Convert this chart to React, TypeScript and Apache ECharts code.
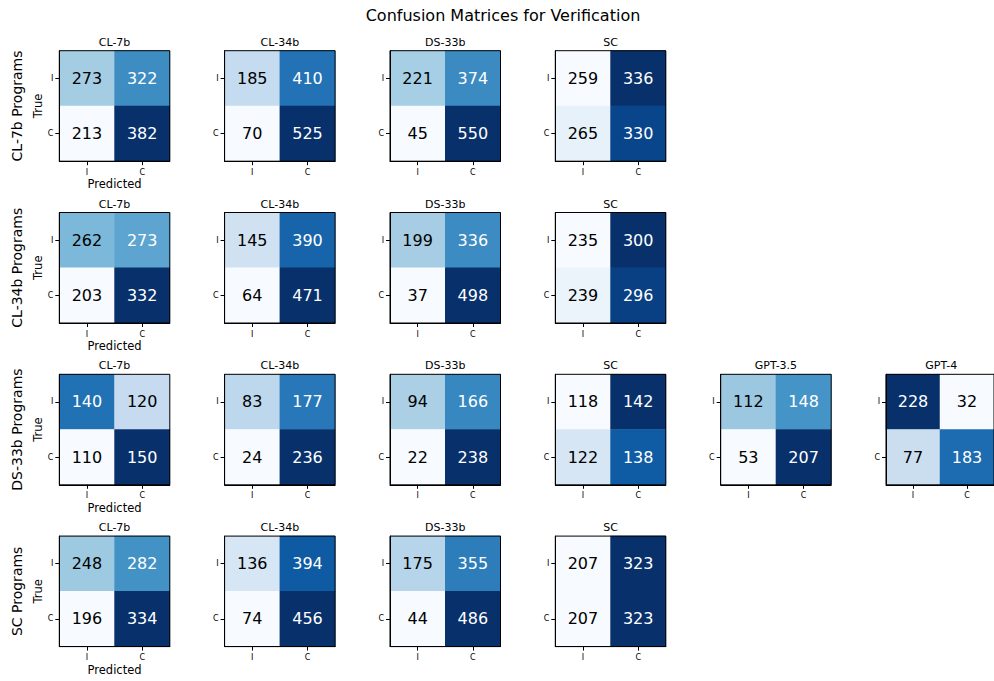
import React, { useEffect, useRef } from "react";
import * as echarts from "echarts";

const MAIN_TITLE = "Confusion Matrices for Verification";
const ROW_LABELS = ["CL-7b Programs", "CL-34b Programs", "DS-33b Programs", "SC Programs"];
const CLASS_LABELS = ["I", "C"];
const X_NAME = "Predicted";
const Y_NAME = "True";

const MODELS_ROW1 = ["CL-7b", "CL-34b", "DS-33b", "SC"];
const MODELS_ROW2 = ["CL-7b", "CL-34b", "DS-33b", "SC"];
const MODELS_ROW3 = ["CL-7b", "CL-34b", "DS-33b", "SC", "GPT-3.5", "GPT-4"];
const MODELS_ROW4 = ["CL-7b", "CL-34b", "DS-33b", "SC"];

// each matrix: [[TI->PI, TI->PC], [TC->PI, TC->PC]]
const VALUES_ROW1 = [
  [[273, 322], [213, 382]],
  [[185, 410], [70, 525]],
  [[221, 374], [45, 550]],
  [[259, 336], [265, 330]],
];
const VALUES_ROW2 = [
  [[262, 273], [203, 332]],
  [[145, 390], [64, 471]],
  [[199, 336], [37, 498]],
  [[235, 300], [239, 296]],
];
const VALUES_ROW3 = [
  [[140, 120], [110, 150]],
  [[83, 177], [24, 236]],
  [[94, 166], [22, 238]],
  [[118, 142], [122, 138]],
  [[112, 148], [53, 207]],
  [[228, 32], [77, 183]],
];
const VALUES_ROW4 = [
  [[248, 282], [196, 334]],
  [[136, 394], [74, 456]],
  [[175, 355], [44, 486]],
  [[207, 323], [207, 323]],
];

const BLUES = ["#f7fbff", "#deebf7", "#c6dbef", "#9ecae1", "#6baed6", "#4292c6", "#2171b5", "#08519c", "#08306b"];

const FONT = "DejaVu Sans";
const COL_X = [59.3, 224.6, 390, 555.3, 720.7, 886];
const ROW_Y = [50.7, 212.5, 374.3, 536.1];
const SIZE = 110.5;

function buildOption() {
  const rows = [
    { models: MODELS_ROW1, values: VALUES_ROW1 },
    { models: MODELS_ROW2, values: VALUES_ROW2 },
    { models: MODELS_ROW3, values: VALUES_ROW3 },
    { models: MODELS_ROW4, values: VALUES_ROW4 },
  ];
  const grid: any[] = [];
  const xAxis: any[] = [];
  const yAxis: any[] = [];
  const series: any[] = [];
  const visualMap: any[] = [];
  const graphic: any[] = [
    {
      type: "text",
      x: 503,
      y: 15,
      style: { text: MAIN_TITLE, fontSize: 16, fontFamily: FONT, fill: "#000", textAlign: "center", textVerticalAlign: "middle" },
    },
  ];
  let idx = 0;
  rows.forEach((row, r) => {
    graphic.push({
      type: "text",
      x: 17,
      y: ROW_Y[r] + SIZE / 2,
      rotation: Math.PI / 2,
      style: { text: ROW_LABELS[r], fontSize: 14, fontFamily: FONT, fill: "#000", textAlign: "center", textVerticalAlign: "middle" },
    });
    row.models.forEach((name, c) => {
      const m = row.values[c];
      const flat = [m[0][0], m[0][1], m[1][0], m[1][1]];
      const mn = Math.min(...flat);
      const mx = Math.max(...flat);
      const thresh = (mn + mx) / 2;
      grid.push({
        left: COL_X[c],
        top: ROW_Y[r],
        width: SIZE,
        height: SIZE,
        show: true,
        z: 5,
        borderColor: "#000",
        borderWidth: 1,
        backgroundColor: "rgba(0,0,0,0)",
        containLabel: false,
      });
      graphic.push({
        type: "text",
        x: COL_X[c] + SIZE / 2,
        y: ROW_Y[r] - 8.5,
        style: { text: name, fontSize: 11, fontFamily: FONT, fill: "#000", textAlign: "center", textVerticalAlign: "middle" },
      });
      xAxis.push({
        type: "category",
        gridIndex: idx,
        data: CLASS_LABELS,
        position: "bottom",
        z: 5,
        name: c === 0 ? X_NAME : "",
        nameLocation: "middle",
        nameGap: 17,
        nameTextStyle: { fontSize: 11.5, fontFamily: FONT, color: "#000" },
        axisLine: { show: true, lineStyle: { color: "#000", width: 1 } },
        axisTick: { show: true, alignWithLabel: true, length: 4, lineStyle: { color: "#000" } },
        axisLabel: { fontSize: 8, fontFamily: FONT, color: "#000", margin: 7 },
        splitLine: { show: false },
        splitArea: { show: false },
      });
      yAxis.push({
        type: "category",
        gridIndex: idx,
        data: CLASS_LABELS,
        inverse: true,
        z: 5,
        name: c === 0 ? Y_NAME : "",
        nameLocation: "middle",
        nameRotate: 90,
        nameGap: 15,
        nameTextStyle: { fontSize: 11.5, fontFamily: FONT, color: "#000" },
        axisLine: { show: true, lineStyle: { color: "#000", width: 1 } },
        axisTick: { show: true, alignWithLabel: true, length: 4, lineStyle: { color: "#000" } },
        axisLabel: { fontSize: 8, fontFamily: FONT, color: "#000", margin: 6 },
        splitLine: { show: false },
        splitArea: { show: false },
      });
      const data: any[] = [];
      for (let yi = 0; yi < 2; yi++) {
        for (let xi = 0; xi < 2; xi++) {
          const v = m[yi][xi];
          data.push({ value: [xi, yi, v], label: { color: v > thresh ? "#ffffff" : "#000000" } });
        }
      }
      series.push({
        type: "heatmap",
        xAxisIndex: idx,
        yAxisIndex: idx,
        data,
        itemStyle: { borderWidth: 0 },
        label: { show: true, fontSize: 16, fontFamily: FONT, formatter: (p: any) => String(p.value[2]) },
        emphasis: { disabled: true },
      });
      visualMap.push({
        type: "continuous",
        show: false,
        seriesIndex: idx,
        dimension: 2,
        min: mn,
        max: mx,
        inRange: { color: BLUES },
      });
      idx++;
    });
  });
  return {
    animation: false,
    backgroundColor: "#ffffff",
    textStyle: { fontFamily: FONT },
    grid,
    xAxis,
    yAxis,
    visualMap,
    series,
    graphic,
  };
}

export default function App() {
  const ref = useRef<HTMLDivElement>(null);
  useEffect(() => {
    if (!ref.current) return;
    const chart = echarts.init(ref.current, null, { renderer: "svg" });
    chart.setOption(buildOption() as any);
    return () => chart.dispose();
  }, []);
  return <div ref={ref} style={{ position: "fixed", left: 0, top: 0, width: 994, height: 681 }} />;
}
